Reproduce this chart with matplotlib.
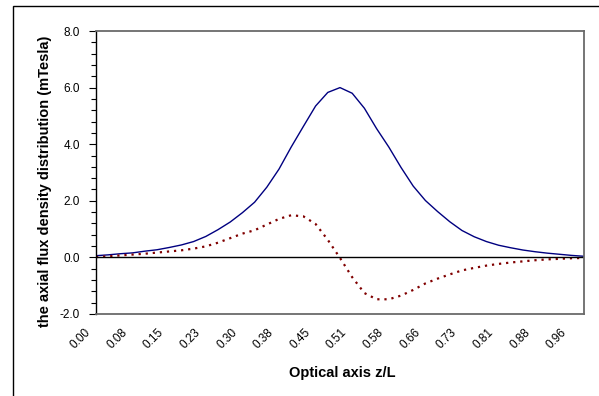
import numpy as np
import matplotlib
matplotlib.use("Agg")
import matplotlib.pyplot as plt
from matplotlib.patches import Rectangle
from matplotlib.ticker import MultipleLocator
from matplotlib.transforms import ScaledTranslation

plt.rcParams['font.family'] = ['Liberation Sans', 'DejaVu Sans']

# samples along the optical axis (category axis, one label every 3 samples)
z_labels = ["0.00", "0.08", "0.15", "0.23", "0.30", "0.38", "0.45",
            "0.51", "0.58", "0.66", "0.73", "0.81", "0.88", "0.96"]

# axial flux density B(z), mTesla
b_field = [0.06, 0.09, 0.13, 0.16, 0.22, 0.27, 0.35, 0.44, 0.56, 0.74,
           0.98, 1.25, 1.58, 1.95, 2.48, 3.12, 3.90, 4.63, 5.35, 5.83,
           6.00, 5.80, 5.27, 4.55, 3.90, 3.18, 2.52, 2.01, 1.62, 1.26,
           0.95, 0.73, 0.56, 0.43, 0.34, 0.26, 0.20, 0.15, 0.11, 0.07,
           0.04]

# first derivative dB/dz (scaled)
db_field = [0.01, 0.04, 0.07, 0.10, 0.13, 0.17, 0.21, 0.25, 0.31, 0.39,
            0.52, 0.68, 0.84, 0.96, 1.16, 1.36, 1.49, 1.45, 1.18, 0.62,
            -0.02, -0.70, -1.26, -1.48, -1.48, -1.35, -1.15, -0.92, -0.75, -0.60,
            -0.46, -0.37, -0.29, -0.23, -0.18, -0.14, -0.10, -0.07, -0.05, -0.03,
            -0.02]

idx = np.arange(len(b_field))

fig = plt.figure(figsize=(5.99, 3.96), dpi=100)
ax = fig.add_axes([96/599, 82/396, 488/599, 283/396])

ax.plot(idx, b_field, color='#000080', lw=1.0)
ax.plot(idx, db_field, color='#800000', lw=1.6, linestyle=(0, (1, 2.2)))
ax.axhline(0, color='black', lw=1.0)

ax.set_xlim(0, len(b_field) - 1)
ax.set_ylim(-2, 8)

ax.set_xticks(idx[::3])
ax.set_xticklabels(z_labels, rotation=45, ha='right', va='center',
                   rotation_mode='anchor', fontsize=8.5)
ax.tick_params(axis='x', length=0, pad=12)
shift = ScaledTranslation(-7/100, 0, fig.dpi_scale_trans)
for lab in ax.get_xticklabels():
    lab.set_transform(lab.get_transform() + shift)

ax.yaxis.set_major_locator(MultipleLocator(2))
ax.yaxis.set_minor_locator(MultipleLocator(0.4))
ax.yaxis.set_major_formatter(lambda v, p: f"{v:.1f}")
ax.tick_params(axis='y', which='major', direction='out', length=5,
               width=0.8, labelsize=8.5, pad=6.5)
ax.tick_params(axis='y', which='minor', direction='out', length=3.5,
               width=0.8)

for s in ['top', 'right', 'bottom']:
    ax.spines[s].set_color('#6a6a6a')
    ax.spines[s].set_linewidth(1.3)
ax.spines['left'].set_color('black')
ax.spines['left'].set_linewidth(1.0)

fig.text(45/599, 1 - 181/396, 'the axial flux density distribution (mTesla)',
         rotation=90, ha='center', va='center', fontsize=10.5,
         fontweight='bold')
fig.text(342/599, 1 - 373/396, 'Optical axis z/L', ha='center',
         va='center', fontsize=10.5, fontweight='bold')

# outer chart frame
fig.add_artist(Rectangle((13/599, -0.1), 1.0, 390/396 + 0.1,
                         transform=fig.transFigure, fill=False,
                         edgecolor='black', lw=1.0))

fig.savefig('out.png', dpi=100)
